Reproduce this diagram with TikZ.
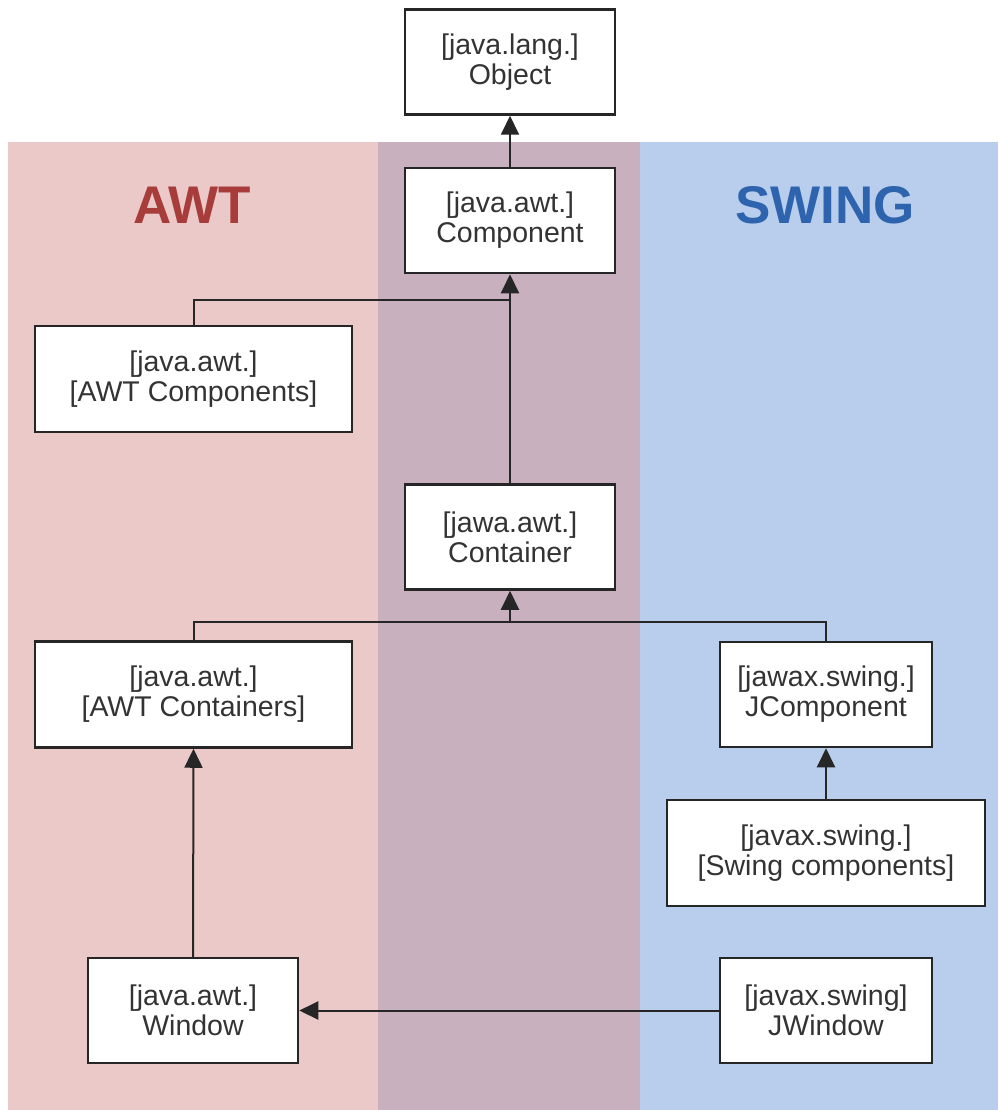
\documentclass[tikz,border=0pt]{standalone}
\usepackage{fontspec}
\setmainfont{Liberation Sans}
\usetikzlibrary{arrows.meta}
\definecolor{awtbg}{HTML}{EBC9C8}
\definecolor{midbg}{HTML}{C8B0BF}
\definecolor{swbg}{HTML}{B8CEEC}
\definecolor{awtred}{HTML}{A83C3A}
\definecolor{swblue}{HTML}{2E63AE}
\definecolor{txt}{HTML}{333333}
\tikzset{
  cls/.style={draw=black!85, line width=2.5pt, fill=white, align=center,
    text=txt, font=\fontsize{28.5}{30}\selectfont, inner sep=0pt},
  small/.style={cls, minimum width=210pt, minimum height=105pt},
  wide/.style={cls, minimum width=317pt, minimum height=106pt},
  conn/.style={draw=black!85, line width=2pt},
  arr/.style={conn, -{Triangle[length=19pt,width=18pt]}},
  head/.style={font=\fontsize{53}{60}\selectfont\bfseries}
}
\begin{document}
\begin{tikzpicture}[x=1pt,y=1pt]
\useasboundingbox (0,0) rectangle (998,-1110);
\fill[white] (0,0) rectangle (998,-1110);
\fill[awtbg] (8,-142) rectangle (378,-1110);
\fill[midbg] (378,-142) rectangle (640,-1110);
\fill[swbg] (640,-142) rectangle (998,-1110);
\node[head, text=awtred] (awt) at (192,-205) {AWT};
\node[head, text=swblue] (swing) at (825,-205) {SWING};

\node[small] (obj) at (510,-62) {[java.lang.]\\Object};
\node[small] (comp) at (510,-220.5) {[java.awt.]\\Component};
\node[wide] (awtc) at (193.5,-379) {[java.awt.]\\{}[AWT Components]};
\node[small] (cont) at (510,-537) {[jawa.awt.]\\Container};
\node[wide] (awtcont) at (193.5,-694.5) {[java.awt.]\\{}[AWT Containers]};
\node[small, minimum width=212pt] (jcomp) at (826,-694.5) {[jawax.swing.]\\JComponent};
\node[wide, minimum width=318pt] (swc) at (826,-853) {[javax.swing.]\\{}[Swing components]};
\node[small] (win) at (193,-1010.5) {[java.awt.]\\Window};
\node[small, minimum width=212pt] (jwin) at (826,-1010.5) {[javax.swing]\\JWindow};

\coordinate (j1) at (510,-300);
\coordinate (j2) at (510,-622);

\draw[arr] (comp.north) -- (obj.south);
\draw[conn] (awtc.north) |- (j1);
\draw[arr] (cont.north) -- (comp.south);
\draw[conn] (awtcont.north) |- (j2) -| (jcomp.north);
\draw[arr] (j2) -- (cont.south);
\draw[arr] (swc.north) -- (jcomp.south);
\draw[arr] (win.north) -- (awtcont.south);
\draw[arr] (jwin.west) -- (win.east);
\end{tikzpicture}
\end{document}
